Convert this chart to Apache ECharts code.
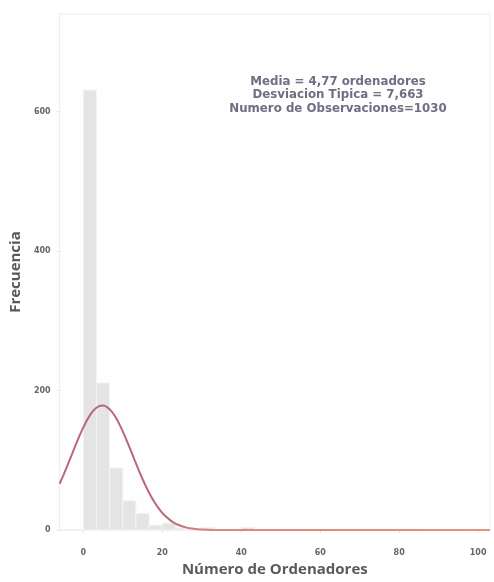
<!DOCTYPE html>
<html>
<head>
<meta charset="utf-8">
<script src="https://cdn.jsdelivr.net/npm/echarts@6/dist/echarts.min.js"></script>
<style>
  html, body { margin: 0; padding: 0; background: #ffffff; }
  #chart { width: 494px; height: 582px; }
</style>
</head>
<body>
<div id="chart"></div>
<script>
// Histogram bins: start of each bin and bin width (number of computers)
const binWidth = 10 / 3;
const binStarts = [0, 3.333, 6.667, 10, 13.333, 16.667, 20, 23.333, 26.667, 30, 33.333, 36.667, 40];
const binCounts = [631, 211, 89, 42, 24, 7, 10, 3, 0, 4, 0, 0, 4];

// Fitted normal curve (x, frequency)
const curveX = [-6, -5, -4, -3, -2, -1, 0, 1, 2, 3, 4, 5, 6, 7, 8, 9, 10, 11, 12, 13, 14, 15, 16, 17, 18, 19, 20,
                21, 22, 23, 24, 25, 26, 27, 28, 29, 30, 32, 35, 40, 50, 60, 70, 80, 90, 100, 103];
const curveY = [66.5, 79.3, 92.8, 106.9, 121.0, 134.6, 147.2, 158.3, 167.4, 174.0, 177.8, 178.6, 176.4, 171.3,
                163.5, 153.4, 141.6, 128.4, 114.5, 100.4, 86.5, 73.3, 61.1, 50.0, 40.3, 31.9, 24.8,
                19.0, 14.3, 10.5, 7.7, 5.5, 3.9, 2.7, 1.8, 1.2, 0.8, 0.3, 0.06, 0, 0, 0, 0, 0, 0, 0, 0];

const xTicks = [0, 20, 40, 60, 80, 100];
const yTicks = [0, 200, 400, 600];

const statsLines = [
  'Media = 4,77 ordenadores',
  'Desviacion Tipica = 7,663',
  'Numero de Observaciones=1030'
];

const chart = echarts.init(document.getElementById('chart'), null, { renderer: 'canvas' });

const barData = binStarts.map((s, i) => [s, s + binWidth, binCounts[i]]);
const lineData = curveX.map((x, i) => [x, curveY[i]]);

const titleFont = { fontFamily: 'Open Sans, sans-serif', fontSize: 15, color: '#5a5a5a', fontWeight: 'bold' };
const tickFont = { fontFamily: 'DejaVu Sans, sans-serif', fontSize: 8, fontWeight: 'bold', color: '#666' };

chart.setOption({
  animation: false,
  backgroundColor: '#ffffff',
  grid: {
    left: 59, right: 4, top: 14, bottom: 48,
    show: true, borderColor: '#ececec', borderWidth: 1, backgroundColor: '#fefefe'
  },
  title: {
    text: statsLines.join('\n'),
    left: 333, top: 70,
    textAlign: 'center',
    textStyle: {
      fontFamily: 'DejaVu Sans, sans-serif',
      fontSize: 11.8, fontWeight: 'bold', color: '#6e6e84', lineHeight: 13.5
    }
  },
  xAxis: {
    type: 'value', min: -6, max: 103,
    name: 'Número de Ordenadores',
    nameLocation: 'middle', nameGap: 27,
    nameTextStyle: titleFont,
    splitLine: { show: false },
    axisLine: { show: false },
    axisTick: { show: true, customValues: xTicks, length: 3, lineStyle: { color: '#e4e4e4' } },
    axisLabel: Object.assign({ customValues: xTicks, margin: 19 }, tickFont)
  },
  yAxis: {
    type: 'value', min: 0, max: 740,
    name: 'Frecuencia',
    nameLocation: 'middle', nameGap: 34, nameRotate: 90,
    nameTextStyle: titleFont,
    splitLine: { show: false },
    axisLine: { show: true, onZero: false, lineStyle: { color: '#eeeeee' } },
    axisTick: { show: true, customValues: yTicks, length: 3, lineStyle: { color: '#e4e4e4' } },
    axisLabel: Object.assign({ customValues: yTicks, margin: 9 }, tickFont)
  },
  series: [
    {
      type: 'custom',
      data: barData,
      encode: { x: [0, 1], y: 2 },
      renderItem: function (params, api) {
        const p0 = api.coord([api.value(0), api.value(2)]);
        const p1 = api.coord([api.value(1), 0]);
        return {
          type: 'rect',
          shape: { x: p0[0], y: p0[1], width: p1[0] - p0[0], height: p1[1] - p0[1] },
          style: { fill: '#e4e4e4', stroke: '#f4f4f4', lineWidth: 1 }
        };
      },
      z: 2
    },
    {
      type: 'line',
      data: [[-6, 0], [103, 0]],
      symbol: 'none',
      lineStyle: { color: '#e8e8e8', width: 1 },
      silent: true,
      z: 1
    },
    {
      type: 'line',
      data: lineData,
      smooth: 0.2,
      symbol: 'none',
      lineStyle: {
        width: 2,
        color: {
          type: 'linear', x: 0, y: 0, x2: 1, y2: 0,
          colorStops: [
            { offset: 0, color: '#b8687a' },
            { offset: 0.25, color: '#b86878' },
            { offset: 0.35, color: '#d98a7e' },
            { offset: 1, color: '#e4937e' }
          ]
        }
      },
      z: 3
    }
  ]
});
</script>
</body>
</html>
